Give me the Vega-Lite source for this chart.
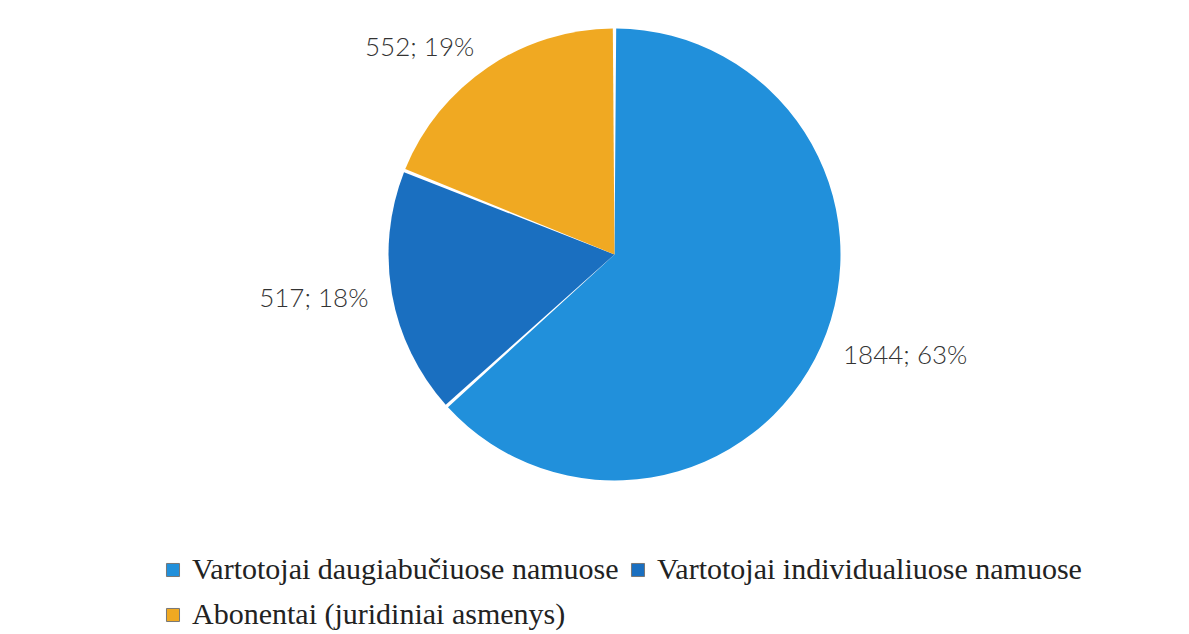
{
  "$schema": "https://vega.github.io/schema/vega-lite/v6.json",
  "width": 1189,
  "height": 634,
  "autosize": {"type": "fit", "contains": "padding"},
  "padding": {"left": 158, "top": 2, "right": 118, "bottom": 4},
  "background": "white",
  "data": {"values": [
    {"cat": "Vartotojai daugiabučiuose namuose", "value": 1844, "label": "1844; 63%", "ord": 1},
    {"cat": "Vartotojai individualiuose namuose", "value": 517, "label": "517; 18%", "ord": 2},
    {"cat": "Abonentai (juridiniai asmenys)", "value": 552, "label": "552; 19%", "ord": 3}
  ]},
  "encoding": {
    "theta": {"field": "value", "type": "quantitative", "stack": true},
    "order": {"field": "ord", "type": "quantitative"}
  },
  "layer": [
    {
      "mark": {"type": "arc", "outerRadius": 226, "padAngle": 0.015},
      "encoding": {
        "color": {
          "field": "cat",
          "type": "nominal",
          "sort": ["Vartotojai daugiabučiuose namuose", "Vartotojai individualiuose namuose", "Abonentai (juridiniai asmenys)"],
          "scale": {
            "domain": ["Vartotojai daugiabučiuose namuose", "Vartotojai individualiuose namuose", "Abonentai (juridiniai asmenys)"],
            "range": ["#2190db", "#1a6fc0", "#f0a922"]
          },
          "legend": {
            "title": null,
            "orient": "bottom",
            "direction": "horizontal",
            "columns": 2,
            "symbolType": "square",
            "symbolSize": 170,
            "symbolStrokeColor": "#777",
            "symbolStrokeWidth": 1,
            "labelFont": "Liberation Serif",
            "labelFontSize": 30,
            "labelColor": "#222",
            "labelLimit": 700,
            "labelOffset": 4,
            "columnPadding": 4,
            "rowPadding": 15,
            "offset": 48
          }
        }
      }
    },
    {
      "mark": {
        "type": "text",
        "radius": 250,
        "font": "Lato",
        "fontSize": 26,
        "fontWeight": 300,
        "align": {"expr": "datum.ord == 1 ? 'left' : 'right'"}
      },
      "encoding": {
        "text": {"field": "label", "type": "nominal"},
        "color": {"value": "#333333"}
      }
    }
  ]
}
